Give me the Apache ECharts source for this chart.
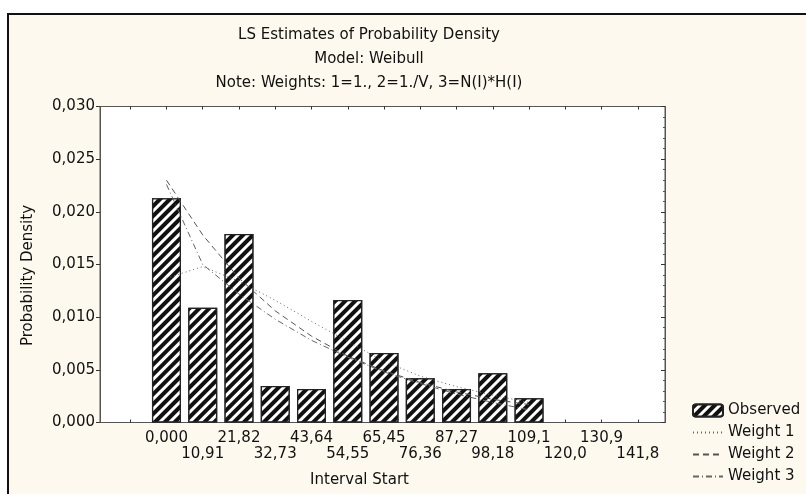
<!DOCTYPE html>
<html>
<head>
<meta charset="utf-8">
<script src="https://cdn.jsdelivr.net/npm/echarts@6/dist/echarts.min.js"></script>
<style>html,body{margin:0;padding:0;background:#fff}#c{width:806px;height:494px}</style>
</head>
<body>
<div id="c"></div>
<script>
// ---- data ----
const tickLabels = ['0,000','10,91','21,82','32,73','43,64','54,55','65,45','76,36','87,27','98,18','109,1','120,0','130,9','141,8'];
const intervalStarts = [0, 10.909, 21.818, 32.727, 43.636, 54.545, 65.455, 76.364, 87.273, 98.182, 109.091, 120, 130.909, 141.818];
const minorTickStarts = [-10.909];
const observed = [0.0213, 0.0109, 0.0179, 0.00347, 0.00318, 0.01163, 0.0066, 0.0042, 0.00318, 0.00467, 0.0023];
const weight1 = [0.0137, 0.0148, 0.0134, 0.0116, 0.0096, 0.0077, 0.0058, 0.0044, 0.0034, 0.0026, 0.0019];
const weight2 = [0.0230, 0.0178, 0.0137, 0.0106, 0.0082, 0.0063, 0.0049, 0.0038, 0.0029, 0.0022, 0.0017];
const weight3 = [0.0226, 0.0150, 0.0122, 0.0098, 0.0078, 0.0062, 0.0048, 0.0037, 0.0027, 0.0019, 0.0012];

const FONT = 'DejaVu Sans, Verdana, sans-serif';
const FS = 15;
const pair = arr => arr.map((v, i) => [intervalStarts[i], v]);
const evenStarts = intervalStarts.filter((v, i) => i % 2 === 0);
const oddStarts = intervalStarts.filter((v, i) => i % 2 === 1);
const labelFor = v => tickLabels[Math.round(v / 10.909)];

const chart = echarts.init(document.getElementById('c'), null, {renderer: 'canvas'});
chart.setOption({
  backgroundColor: '#ffffff',
  animation: false,
  graphic: [{
    type: 'rect', z: -10, silent: true,
    shape: {x: 8, y: 14, width: 830, height: 520},
    style: {fill: '#fef9ee', stroke: '#111', lineWidth: 2}
  }],
  title: {
    text: 'LS Estimates of Probability Density\nModel: Weibull\nNote: Weights: 1=1., 2=1./V, 3=N(I)*H(I)',
    left: 369, top: 23, textAlign: 'center', padding: 0,
    textStyle: {fontFamily: FONT, fontSize: FS, fontWeight: 'normal', color: '#111', lineHeight: 24}
  },
  legend: {
    orient: 'vertical', left: 692, top: 402, itemWidth: 30, itemHeight: 12, itemGap: 5,
    padding: 0, height: 92,
    textStyle: {fontFamily: FONT, fontSize: FS, color: '#111', lineHeight: 17},
    data: [
      {name: 'Observed'},
      {name: 'Weight 1', itemStyle: {opacity: 0}},
      {name: 'Weight 2', itemStyle: {opacity: 0}},
      {name: 'Weight 3', itemStyle: {opacity: 0}}
    ]
  },
  grid: {
    left: 100, right: 141, top: 106.5, bottom: 71.5, show: true,
    backgroundColor: '#ffffff', borderColor: '#555', borderWidth: 1
  },
  xAxis: [{
    type: 'value', min: -20, max: 150, position: 'bottom',
    name: 'Interval Start', nameLocation: 'middle', nameGap: 50,
    nameTextStyle: {fontFamily: FONT, fontSize: FS, color: '#111', padding: [0, 46, 0, 0]},
    axisLine: {show: true, onZero: false, lineStyle: {color: '#555'}},
    axisTick: {show: true, inside: true, length: 3, lineStyle: {color: '#333'},
      customValues: minorTickStarts.concat(intervalStarts)},
    axisLabel: {customValues: evenStarts, formatter: labelFor, margin: 8,
      showMinLabel: true, showMaxLabel: true,
      fontFamily: FONT, fontSize: FS, color: '#111'},
    splitLine: {show: false}
  }, {
    type: 'value', min: -20, max: 150, position: 'top',
    axisLine: {show: true, onZero: false, lineStyle: {color: '#555'}},
    axisTick: {show: true, inside: true, length: 3, lineStyle: {color: '#333'},
      customValues: minorTickStarts.concat(intervalStarts)},
    axisLabel: {show: false}, splitLine: {show: false}
  }, {
    type: 'value', min: -20, max: 150, position: 'bottom', offset: 16,
    axisLine: {show: false, onZero: false}, axisTick: {show: false},
    axisLabel: {customValues: oddStarts, formatter: labelFor, margin: 8,
      showMinLabel: true, showMaxLabel: true,
      fontFamily: FONT, fontSize: FS, color: '#111'},
    splitLine: {show: false}
  }],
  yAxis: [{
    type: 'value', min: 0, max: 0.03, interval: 0.005, position: 'left',
    name: 'Probability Density', nameLocation: 'middle', nameGap: 64,
    nameTextStyle: {fontFamily: FONT, fontSize: FS, color: '#111', padding: [0, 22, 0, 0]},
    axisLine: {show: true, onZero: false, lineStyle: {color: '#555'}},
    axisTick: {show: true, length: 4, lineStyle: {color: '#333'}},
    minorTick: {show: false},
    axisLabel: {fontFamily: FONT, fontSize: FS, color: '#111', margin: 5,
      showMinLabel: true, showMaxLabel: true,
      formatter: v => v.toFixed(3).replace('.', ',')},
    splitLine: {show: false}
  }, {
    type: 'value', min: 0, max: 0.03, interval: 0.005, position: 'right',
    axisLine: {show: true, onZero: false, lineStyle: {color: '#555'}},
    axisTick: {show: true, inside: true, length: 4, lineStyle: {color: '#333'}},
    minorTick: {show: true, splitNumber: 5, length: 2, lineStyle: {color: '#555'}},
    axisLabel: {show: false}, splitLine: {show: false}
  }],
  series: [{
    name: 'Observed', type: 'bar', xAxisIndex: 0, yAxisIndex: 0, barWidth: 29,
    data: pair(observed),
    itemStyle: {color: '#ffffff', borderColor: '#222', borderWidth: 1.3,
      decal: {symbol: 'rect', color: '#111', backgroundColor: '#ffffff',
        dashArrayX: [1, 0], dashArrayY: [4, 3], rotation: -Math.PI / 4}}
  }, {
    name: 'Weight 1', type: 'line', symbol: 'none', data: pair(weight1),
    itemStyle: {color: '#666'},
    lineStyle: {color: '#666', width: 1, type: [1, 3]}
  }, {
    name: 'Weight 2', type: 'line', symbol: 'none', data: pair(weight2),
    itemStyle: {color: '#555'},
    lineStyle: {color: '#555', width: 1, type: [6, 4]}
  }, {
    name: 'Weight 3', type: 'line', symbol: 'none', data: pair(weight3),
    itemStyle: {color: '#666'},
    lineStyle: {color: '#666', width: 1, type: [6, 3, 1, 3]}
  }]
});
</script>
</body>
</html>
